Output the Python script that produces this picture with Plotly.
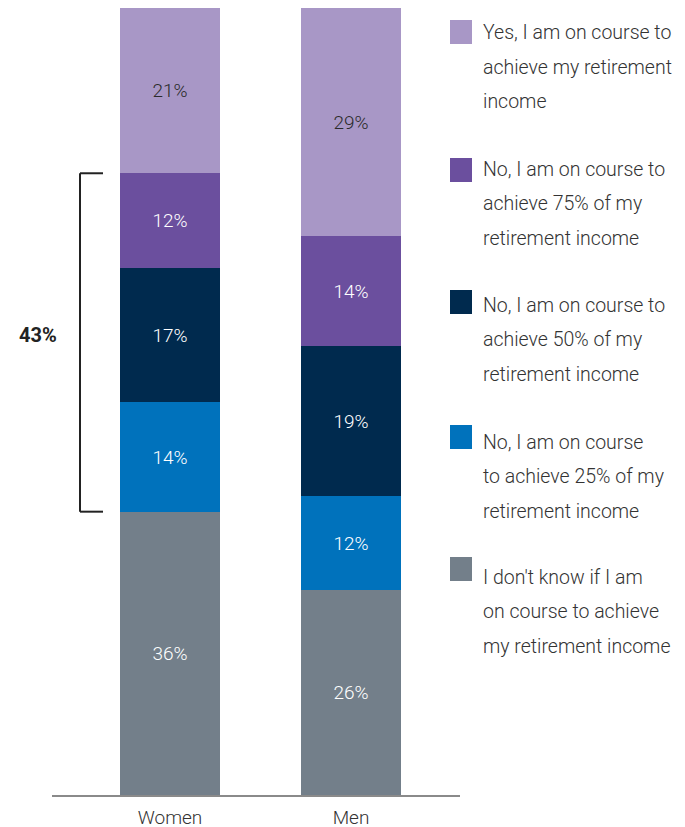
import plotly.graph_objects as go

# Data
groups = ["Women", "Men"]
answers = [
    "I don't know if I am on course to achieve my retirement income",
    "No, I am on course to achieve 25% of my retirement income",
    "No, I am on course to achieve 50% of my retirement income",
    "No, I am on course to achieve 75% of my retirement income",
    "Yes, I am on course to achieve my retirement income",
]
dont_know = [36, 26]
pct_25 = [14, 12]
pct_50 = [17, 19]
pct_75 = [12, 14]
on_course = [21, 29]

legend_lines = [
    ["Yes, I am on course to", "achieve my retirement", "income"],
    ["No, I am on course to", "achieve 75% of my", "retirement income"],
    ["No, I am on course to", "achieve 50% of my", "retirement income"],
    ["No, I am on course", "to achieve 25% of my", "retirement income"],
    ["I don't know if I am", "on course to achieve", "my retirement income"],
]
bracket_label = "43%"

series = [dont_know, pct_25, pct_50, pct_75, on_course]
colors = ["#737f8a", "#0072bc", "#002a4e", "#6b4f9e", "#a897c6"]
text_colors = ["white", "white", "white", "white", "#2b2b2b"]
FONT = "Roboto"

fig = go.Figure()
xpos = list(range(len(groups)))
for name, vals, col, tcol in zip(answers, series, colors, text_colors):
    fig.add_trace(go.Bar(
        x=xpos, y=vals, name=name,
        marker=dict(color=col, line=dict(width=0)),
        width=0.552,
        text=[f"{v}%" for v in vals],
        textposition="inside", insidetextanchor="middle",
        textfont=dict(color=tcol, size=19, family=FONT, weight=300),
        hovertemplate="%{y}%<extra></extra>",
    ))

# page has an 8px body margin, so the plot sits at screen x 52..460, y 8..795
def px_x(sx):
    return (sx - 52) / 408

def px_y(sy):
    return (795 - sy) / 787

# bracket around the three "No" answers for women
y_lo = dont_know[0]
y_hi = dont_know[0] + pct_25[0] + pct_50[0] + pct_75[0]
bx0, bx1 = px_x(80), px_x(103)
for seg in [(bx0, y_lo, bx0, y_hi), (bx0, y_lo, bx1, y_lo), (bx0, y_hi, bx1, y_hi)]:
    fig.add_shape(type="line", x0=seg[0], y0=seg[1], x1=seg[2], y1=seg[3],
                  xref="paper", yref="y", line=dict(color="#222222", width=2))
fig.add_annotation(x=px_x(59), y=px_y(335), xref="paper", yref="paper",
                   xanchor="right", yanchor="middle",
                   text=f"<b>{bracket_label}</b>", showarrow=False,
                   font=dict(size=20, color="#222222", family=FONT))

# custom legend on the right
square_tops = [20, 158, 290, 425, 557]
text_tops = [33, 169, 305, 442, 577]
line_step = 34.5
for col, lines, sq, tt in zip(colors[::-1], legend_lines, square_tops, text_tops):
    fig.add_shape(type="rect", xref="paper", yref="paper",
                  x0=px_x(450), x1=px_x(472),
                  y0=px_y(sq + 24), y1=px_y(sq),
                  fillcolor=col, line=dict(width=0))
    for j, line in enumerate(lines):
        fig.add_annotation(xref="paper", yref="paper",
                           x=px_x(481), y=px_y(tt + j * line_step),
                           xanchor="left", yanchor="middle", showarrow=False,
                           text=line,
                           font=dict(size=19.5, color="#333333", family=FONT, weight=300))

fig.update_layout(
    barmode="stack",
    width=685, height=827,
    margin=dict(l=44, r=233, t=0, b=40),
    plot_bgcolor="white", paper_bgcolor="white",
    showlegend=False,
    bargap=0,
    xaxis=dict(range=[-0.652, 1.602], tickvals=xpos, ticktext=groups,
               showgrid=False, zeroline=False, showline=True,
               linecolor="#8a8a8a", linewidth=1.5, ticks="",
               ticklabelstandoff=4,
               tickfont=dict(size=19, color="#333333", family=FONT, weight=300)),
    yaxis=dict(range=[0, 100], visible=False),
    font=dict(family=FONT),
)

fig.write_html("out.html")
